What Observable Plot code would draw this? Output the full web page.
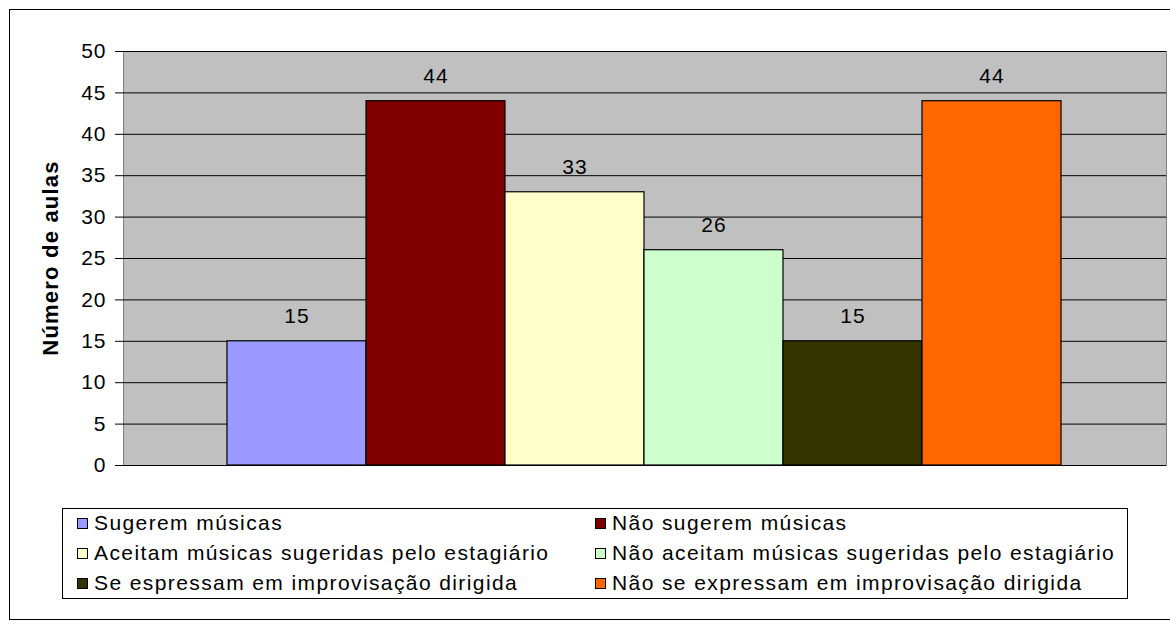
<!DOCTYPE html>
<html>
<head>
<meta charset="utf-8">
<script src="https://cdn.jsdelivr.net/npm/d3@7"></script>
<script src="https://cdn.jsdelivr.net/npm/@observablehq/plot@0.6"></script>
<style>
  html, body { margin: 0; padding: 0; background: #fff; }
  body { width: 1170px; height: 628px; position: relative; overflow: hidden; font-family: "Liberation Sans", Arial, sans-serif; color: #000; }
  #frame { position: absolute; left: 9px; top: 9px; width: 1170px; height: 611px; border: 1px solid #000; box-sizing: border-box; }
  #chart { position: absolute; left: 0; top: 0; }
  #ylabel { position: absolute; left: 51px; top: 258px; transform: translate(-50%, -50%) rotate(-90deg); font-weight: bold; font-size: 22px; letter-spacing: 1.2px; white-space: nowrap; }
  #legend { position: absolute; left: 62px; top: 508px; width: 1066px; height: 91px; border: 1px solid #000; box-sizing: border-box; background: #fff; }
  .item { position: absolute; font-size: 21px; white-space: nowrap; letter-spacing: 1.4px; line-height: 1; }
  .sw { position: absolute; width: 11px; height: 11px; border: 1px solid #000; box-sizing: border-box; }
</style>
</head>
<body>
<div id="frame"></div>
<div id="chart"></div>
<div id="ylabel">Número de aulas</div>
<div id="legend"></div>
<script>
const categories = [
  "Sugerem músicas",
  "Não sugerem músicas",
  "Aceitam músicas sugeridas pelo estagiário",
  "Não aceitam músicas sugeridas pelo estagiário",
  "Se espressam em improvisação dirigida",
  "Não se expressam em improvisação dirigida"
];
const values = [15, 44, 33, 26, 15, 44];
const colors = ["#9999ff", "#800000", "#ffffcc", "#ccffcc", "#333300", "#ff6600"];
const yTicks = [0, 5, 10, 15, 20, 25, 30, 35, 40, 45, 50];

const data = categories.map((c, i) => ({category: c, value: values[i]}));

const plot = Plot.plot({
  width: 1170,
  height: 485,
  marginTop: 51,
  marginBottom: 20,
  marginLeft: 123,
  marginRight: 4,
  style: {fontFamily: "'Liberation Sans', Arial, sans-serif", fontSize: "21px", letterSpacing: "1px", background: "transparent", color: "#000"},
  x: {type: "band", domain: categories, padding: 0, axis: null, insetLeft: 104, insetRight: 105},
  y: {domain: [0, 50], axis: null},
  color: {domain: categories, range: colors},
  marks: [
    Plot.frame({fill: "#c0c0c0", stroke: "#808080"}),
    Plot.ruleY(yTicks, {stroke: "#000", strokeWidth: 1}),
    Plot.barY(data, {x: "category", y: "value", fill: "category", stroke: "#000", strokeWidth: 1.2}),
    Plot.text(data, {x: "category", y: "value", text: d => String(d.value), dy: -25, fontSize: 21, fill: "#000"}),
    Plot.axisY({ticks: yTicks, tickSize: 8, tickPadding: 9, fontSize: 21, label: null, stroke: "#000"})
  ]
});
document.getElementById("chart").appendChild(plot);

const legend = document.getElementById("legend");
categories.forEach((c, i) => {
  const col = i % 2, row = Math.floor(i / 2);
  const sx = col === 0 ? 14 : 532;
  const cy = 13 + row * 30;
  const sw = document.createElement("div");
  sw.className = "sw";
  sw.style.left = sx + "px";
  sw.style.top = (cy - 4) + "px";
  sw.style.background = colors[i];
  legend.appendChild(sw);
  const t = document.createElement("div");
  t.className = "item";
  t.style.left = (sx + 17) + "px";
  t.style.top = (cy - 10) + "px";
  t.textContent = c;
  legend.appendChild(t);
});
</script>
</body>
</html>
